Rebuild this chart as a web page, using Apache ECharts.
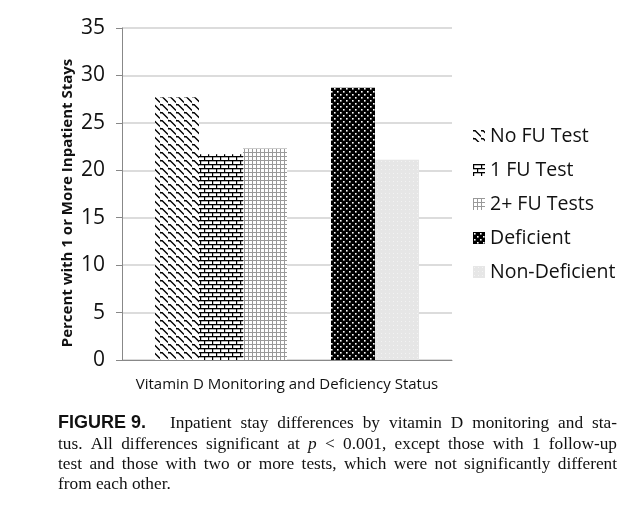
<!DOCTYPE html>
<html>
<head>
<meta charset="utf-8">
<script src="https://cdn.jsdelivr.net/npm/echarts@6/dist/echarts.min.js"></script>
<style>
html,body{margin:0;padding:0;background:#fff;}
#chart{width:642px;height:514px;}
</style>
</head>
<body>
<div id="chart"></div>
<script>
// ---- data ----
const categories = [''];
const seriesNames = ['No FU Test', '1 FU Test', '2+ FU Tests', '', 'Deficient', 'Non-Deficient'];
const noFuValues = [27.7];
const oneFuValues = [21.7];
const twoFuValues = [22.3];
const blankValues = ['-'];
const deficientValues = [28.7];
const nonDeficientValues = [21.1];
const yTicks = { min: 0, max: 35, interval: 5 };
const yAxisTitle = 'Percent with 1 or More Inpatient Stays';
const xAxisTitle = 'Vitamin D Monitoring and Deficiency Status';

// ---- patterns ----
function makeTile(w, h, draw) {
  const c = document.createElement('canvas');
  c.width = w; c.height = h;
  const ctx = c.getContext('2d');
  draw(ctx, w, h);
  return { image: c, repeat: 'repeat' };
}
const patWave = makeTile(8, 8, (ctx) => {
  ctx.fillStyle = '#fff'; ctx.fillRect(0, 0, 8, 8);
  ctx.strokeStyle = '#000'; ctx.lineWidth = 1.4;
  ctx.beginPath();
  ctx.moveTo(-1, 1); ctx.lineTo(2, 0.5); ctx.lineTo(8, 6.5);
  ctx.moveTo(7, 9); ctx.lineTo(10, 8.5);
  ctx.moveTo(-1, 7); ctx.lineTo(0, 8);
  ctx.stroke();
});
const patBrick = makeTile(8, 8, (ctx) => {
  ctx.fillStyle = '#fff'; ctx.fillRect(0, 0, 8, 8);
  ctx.fillStyle = '#000';
  ctx.fillRect(0, 0, 8, 1.3);
  ctx.fillRect(0, 4, 8, 1.3);
  ctx.fillRect(0, 0, 1.2, 4);
  ctx.fillRect(4, 4, 1.2, 4);
});
const patGrid = makeTile(4, 4, (ctx) => {
  ctx.fillStyle = '#fff'; ctx.fillRect(0, 0, 4, 4);
  ctx.fillStyle = '#999';
  ctx.fillRect(0, 0, 4, 1);
  ctx.fillRect(0, 0, 1, 4);
});
const patDots = makeTile(6, 6, (ctx) => {
  ctx.fillStyle = '#000'; ctx.fillRect(0, 0, 6, 6);
  ctx.fillStyle = '#fff';
  ctx.fillRect(1, 1, 1.6, 1.6);
  ctx.fillRect(4, 4, 1.6, 1.6);
});
const patLight = makeTile(4, 4, (ctx) => {
  ctx.fillStyle = '#e6e6e6'; ctx.fillRect(0, 0, 4, 4);
  ctx.fillStyle = '#f3f3f3';
  ctx.fillRect(1, 1, 1, 1);
});
const patterns = [patWave, patBrick, patGrid, null, patDots, patLight];
const valueLists = [noFuValues, oneFuValues, twoFuValues, blankValues, deficientValues, nonDeficientValues];

// ---- caption (justified text) ----
const capLeft = 58, capRight = 617;
const capY = [423, 444, 464, 484];
const serif = '17.3px "Liberation Serif"';
const serifIt = 'italic 17.3px "Liberation Serif"';
const boldSans = 'bold 18px "Liberation Sans"';
const captionLines = [
  { tokens: [['FIGURE 9.', boldSans, 24], ...'Inpatient stay differences by vitamin D monitoring and sta-'.split(' ').map(w => [w, serif])], justify: true },
  { tokens: 'tus. All differences significant at p < 0.001, except those with 1 follow-up'.split(' ').map(w => [w, w === 'p' ? serifIt : serif]), justify: true },
  { tokens: 'test and those with two or more tests, which were not significantly different'.split(' ').map(w => [w, serif]), justify: true },
  { tokens: 'from each other.'.split(' ').map(w => [w, serif]), justify: false }
];
const mctx = document.createElement('canvas').getContext('2d');
function measure(t, f) { mctx.font = f; return mctx.measureText(t).width; }
const graphics = [];
captionLines.forEach((line, li) => {
  const toks = line.tokens;
  let total = 0, fixedGap = 0, nGaps = 0;
  toks.forEach((t, i) => {
    total += measure(t[0], t[1]);
    if (i < toks.length - 1) {
      if (t[2] !== undefined) fixedGap += t[2]; else nGaps++;
    }
  });
  const space = line.justify ? (capRight - capLeft - total - fixedGap) / nGaps : measure(' ', serif);
  let x = capLeft;
  toks.forEach((t) => {
    graphics.push({
      type: 'text', x: x, y: capY[li],
      style: { text: t[0], font: t[1], fill: '#111', textVerticalAlign: 'middle', textAlign: 'left' }
    });
    x += measure(t[0], t[1]) + (t[2] !== undefined ? t[2] : space);
  });
});
// y-axis title
graphics.push({
  type: 'text', x: 68, y: 203, rotation: Math.PI / 2,
  style: { text: yAxisTitle, font: 'bold 15px "Open Sans"', fill: '#111', textAlign: 'center', textVerticalAlign: 'middle' }
});

// ---- chart ----
const chart = echarts.init(document.getElementById('chart'), null, { renderer: 'canvas' });
const series = seriesNames.map((name, i) => ({
  name: name,
  type: 'bar',
  data: valueLists[i],
  barGap: '0%',
  barCategoryGap: '20%',
  itemStyle: patterns[i] ? { color: patterns[i] } : { color: 'transparent' },
  silent: true
}));
chart.setOption({
  animation: false,
  backgroundColor: '#fff',
  grid: { left: 122, right: 190, top: 28, bottom: 154 },
  legend: {
    data: seriesNames.filter(n => n !== ''),
    orient: 'vertical',
    left: 468, top: 120,
    itemWidth: 12, itemHeight: 12,
    itemGap: 12,
    icon: 'rect',
    textStyle: { fontFamily: 'Open Sans', fontSize: 19.5, color: '#111', lineHeight: 22, padding: [0, 0, 0, 0] }
  },
  xAxis: {
    type: 'category',
    data: categories,
    name: xAxisTitle,
    nameLocation: 'middle',
    nameGap: 17,
    nameTextStyle: { fontFamily: 'Open Sans', fontSize: 15, color: '#111', verticalAlign: 'top' },
    axisLine: { lineStyle: { color: '#888', width: 1 } },
    axisTick: { show: false },
    axisLabel: { show: false }
  },
  yAxis: {
    type: 'value',
    min: yTicks.min, max: yTicks.max, interval: yTicks.interval,
    axisLine: { show: true, lineStyle: { color: '#888', width: 1 } },
    axisTick: { show: true, length: 6, lineStyle: { color: '#888' } },
    axisLabel: { fontFamily: 'Open Sans', fontSize: 21, color: '#111', margin: 17 },
    splitLine: { lineStyle: { color: '#d0d0d0', width: 1.5 } }
  },
  series: series,
  graphic: graphics
});
</script>
</body>
</html>
